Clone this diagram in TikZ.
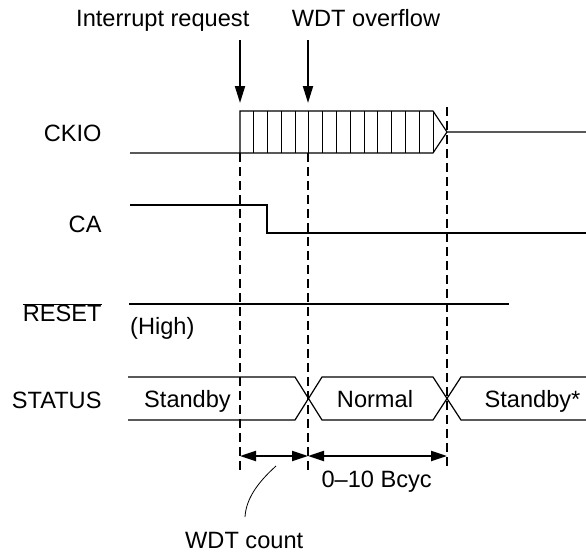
\documentclass[tikz,border=0pt]{standalone}
\usepackage{fontspec}
\setmainfont{Liberation Sans}
\usetikzlibrary{arrows.meta}
\tikzset{
	lbl/.style={font=\fontsize{23.6}{28}\selectfont,inner sep=0pt},
	wave/.style={line width=1.2pt},
	guide/.style={line width=1.2pt,dash pattern=on 9pt off 5pt},
	trig/.style={line width=2pt,-{Triangle[length=17pt,width=10pt]}},
	span/.style={line width=2.2pt,{Triangle[length=16pt,width=10pt]}-{Triangle[length=16pt,width=10pt]}}
}
\begin{document}
\begin{tikzpicture}[x=1pt,y=-1pt]
					\useasboundingbox (0,0) rectangle (586,555);
					% labels
					\node[lbl,anchor=base west] (1) at (76,26.7) {Interrupt request};
					\node[lbl,anchor=base west] (2) at (291.7,26.7) {WDT overflow};
					\node[lbl,anchor=base east] (3) at (101.7,141.7) {CKIO};
					\node[lbl,anchor=base east] (4) at (101.7,232) {CA};
					\node[lbl,anchor=base east] (5) at (101.7,321.7) {$\overline{\mbox{RESET}}$};
					\node[lbl,anchor=base west] (6) at (130,334) {(High)};
					\node[lbl,anchor=base east] (7) at (101.7,408) {STATUS};
					\node[lbl,anchor=base] (8) at (187.5,407) {Standby};
					\node[lbl,anchor=base] (9) at (375,407) {Normal};
					\node[lbl,anchor=base] (10) at (532.5,407) {Standby*};
					\node[lbl,anchor=base] (11) at (376.7,487) {0–10 Bcyc};
					\node[lbl,anchor=base west] (12) at (185,548) {WDT count};
					% trigger arrows
					\coordinate (a1) at (240,40);
					\coordinate (a2) at (240,103);
					\coordinate (b1) at (308,40);
					\coordinate (b2) at (308,103);
					\draw[trig] (a1) -- (a2);
					\draw[trig] (b1) -- (b2);
					% CKIO
					\draw[wave] (130,153) -- (240,153) -- (240,111) -- (433,111) -- (447,132) -- (586,132);
					\draw[wave] (240,153) -- (433,153) -- (447,132);
					\foreach \k in {1,...,14}
						\draw[line width=1pt] (240+\k*13.786,111) -- ++(0,42);
					% CA
					\draw[wave] (130,205) -- (267,205) -- (267,233) -- (586,233);
					% RESET
					\draw[wave] (129,304) -- (509,304);
					% STATUS
					\draw[wave] (128,377) -- (295,377) -- (322,420) -- (433,420) -- (461,377) -- (586,377);
					\draw[wave] (128,420) -- (295,420) -- (322,377) -- (433,377) -- (461,420) -- (586,420);
					% guides
					\draw[guide] (240,153) -- (240,472);
					\draw[guide] (308,153) -- (308,472);
					\draw[guide] (447,107) -- (447,468);
					% spans
					\coordinate (s1) at (240,456);
					\coordinate (s2) at (308,456);
					\coordinate (s3) at (447,456);
					\draw[span] (s1) -- (s2);
					\draw[span] (s2) -- (s3);
					\coordinate (c1) at (276,466);
					\coordinate (c2) at (245,517);
					\draw[line width=0.8pt] (c1) .. controls (256,484) and (246,500) .. (c2);
				\end{tikzpicture}
\end{document}
